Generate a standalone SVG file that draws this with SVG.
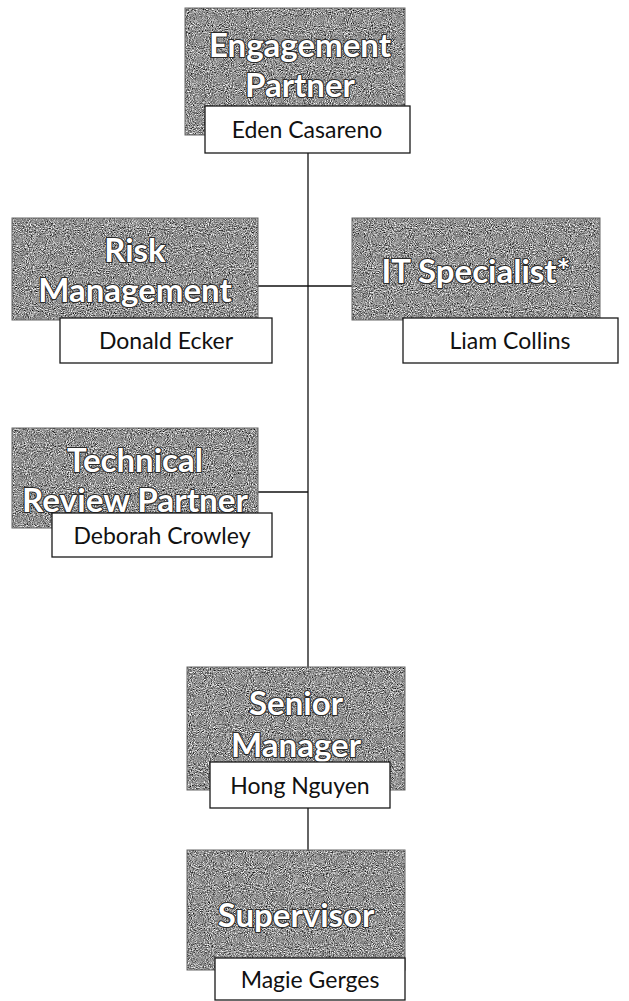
<svg xmlns="http://www.w3.org/2000/svg" width="629" height="1001" viewBox="0 0 629 1001">
<defs>
<filter id="tex" x="0" y="0" width="100%" height="100%" color-interpolation-filters="sRGB">
<feTurbulence type="fractalNoise" baseFrequency="0.95" numOctaves="2" seed="4" result="t"/>
<feColorMatrix in="t" type="matrix" values="0.33 0.33 0.33 0 0 0.33 0.33 0.33 0 0 0.33 0.33 0.33 0 0 0 0 0 0 1" result="g"/>
<feComponentTransfer in="g" result="c">
<feFuncR type="linear" slope="2.4" intercept="-0.62"/>
<feFuncG type="linear" slope="2.4" intercept="-0.62"/>
<feFuncB type="linear" slope="2.4" intercept="-0.62"/>
</feComponentTransfer>
<feComposite in="c" in2="SourceGraphic" operator="in"/>
</filter>
<style>
.g{fill:#8a8a8a;filter:url(#tex)}
.gb{fill:none;stroke:#666;stroke-width:1}
.t{font-family:Lato,"Open Sans",sans-serif;font-weight:bold;font-size:33px;fill:#fff;stroke:#2a2a2a;stroke-width:2.2px;paint-order:stroke;stroke-linejoin:round;text-anchor:middle}
.w{fill:#fff;stroke:#1a1a1a;stroke-width:1.3}
.n{font-family:Lato,"Open Sans",sans-serif;font-size:23px;fill:#111;text-anchor:middle}
.c{stroke:#111;stroke-width:1.3;fill:none}
</style>
</defs>
<g id="connectors">
<path class="c" d="M308,153 V667"/>
<path class="c" d="M258,286 H352"/>
<path class="c" d="M258,492 H308"/>
<path class="c" d="M308,808 V850"/>
</g>
<g id="engagement-partner">
<rect class="g" x="185" y="8" width="220" height="127"/><rect class="gb" x="185" y="8" width="220" height="127"/>
<text class="t" x="300" y="57">Engagement</text>
<text class="t" x="300" y="97">Partner</text>
<rect class="w" x="205" y="106" width="205" height="47"/>
<text class="n" x="307" y="138">Eden Casareno</text>
</g>
<g id="risk-management">
<rect class="g" x="12" y="218" width="246" height="102"/><rect class="gb" x="12" y="218" width="246" height="102"/>
<text class="t" x="135" y="262">Risk</text>
<text class="t" x="135" y="302">Management</text>
<rect class="w" x="60" y="318" width="212" height="45"/>
<text class="n" x="166" y="349">Donald Ecker</text>
</g>
<g id="it-specialist">
<rect class="g" x="352" y="218" width="248" height="102"/><rect class="gb" x="352" y="218" width="248" height="102"/>
<text class="t" x="476" y="283">IT Specialist*</text>
<rect class="w" x="403" y="318" width="215" height="45"/>
<text class="n" x="510" y="349">Liam Collins</text>
</g>
<g id="technical-review-partner">
<rect class="g" x="12" y="428" width="246" height="100"/><rect class="gb" x="12" y="428" width="246" height="100"/>
<text class="t" x="135" y="472">Technical</text>
<text class="t" x="135" y="512" textLength="226" lengthAdjust="spacingAndGlyphs">Review Partner</text>
<rect class="w" x="52" y="513" width="220" height="44"/>
<text class="n" x="162" y="544">Deborah Crowley</text>
</g>
<g id="senior-manager">
<rect class="g" x="187" y="667" width="218" height="123"/><rect class="gb" x="187" y="667" width="218" height="123"/>
<text class="t" x="296" y="715">Senior</text>
<text class="t" x="296" y="757">Manager</text>
<rect class="w" x="210" y="762" width="180" height="46"/>
<text class="n" x="300" y="794">Hong Nguyen</text>
</g>
<g id="supervisor">
<rect class="g" x="187" y="850" width="218" height="120"/><rect class="gb" x="187" y="850" width="218" height="120"/>
<text class="t" x="296" y="927">Supervisor</text>
<rect class="w" x="215" y="958" width="190" height="42"/>
<text class="n" x="310" y="988">Magie Gerges</text>
</g>
</svg>
